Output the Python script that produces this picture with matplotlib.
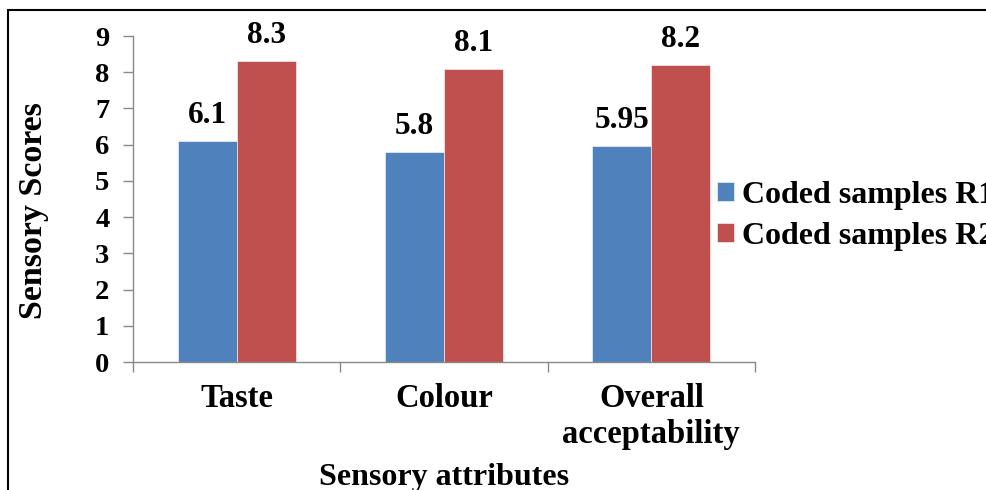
import matplotlib
matplotlib.use("Agg")
import matplotlib.pyplot as plt
import numpy as np
from matplotlib.patches import Rectangle

categories = ["Taste", "Colour", "Overall\nacceptability"]
series_names = ["Coded samples R1", "Coded samples R2"]
r1_scores = [6.1, 5.8, 5.95]
r2_scores = [8.3, 8.1, 8.2]
r1_labels = ["6.1", "5.8", "5.95"]
r2_labels = ["8.3", "8.1", "8.2"]
y_ticks = list(range(0, 10))

plt.rcParams["font.family"] = ["Liberation Serif", "DejaVu Serif"]
plt.rcParams["font.weight"] = "bold"

W, H = 987, 490
fig = plt.figure(figsize=(W / 100, H / 100), dpi=100)
ax = fig.add_axes([133 / W, (H - 362) / H, (755 - 133) / W, (362 - 36) / H])

blue = "#4F81BD"
red = "#C0504D"
grey = "#898989"

x = np.arange(len(categories))
bw = 0.285
b1 = ax.bar(x - bw / 2, r1_scores, bw, color=blue, edgecolor="white", linewidth=0.4,
            label=series_names[0])
b2 = ax.bar(x + bw / 2, r2_scores, bw, color=red, edgecolor="white", linewidth=0.4,
            label=series_names[1])

for bars, labels in ((b1, r1_labels), (b2, r2_labels)):
    for rect, lab in zip(bars, labels):
        ax.annotate(lab, (rect.get_x() + rect.get_width() / 2, rect.get_height()),
                    xytext=(0, 13), textcoords="offset points",
                    ha="center", va="baseline", fontsize=22.5, fontweight="bold")

ax.set_xlim(-0.5, len(categories) - 0.5)
ax.set_ylim(0, 9)
ax.set_yticks(y_ticks)
ax.set_yticklabels([str(t) for t in y_ticks], fontsize=20.5, fontweight="bold")

# category labels centred under each group, tick marks on the group boundaries
ax.set_xticks(np.arange(-0.5, len(categories), 1.0))
ax.set_xticklabels([])
ax.set_xticks(x, minor=True)
ax.set_xticklabels(categories, minor=True, fontsize=23.5, fontweight="bold")
ax.tick_params(axis="x", which="minor", length=0, pad=15)
ax.tick_params(axis="x", which="major", length=7, width=1.0, color=grey, direction="out")
ax.tick_params(axis="y", length=7, width=1.0, color=grey, direction="out", pad=10)

for side in ("top", "right"):
    ax.spines[side].set_visible(False)
for side in ("left", "bottom"):
    ax.spines[side].set_color(grey)
    ax.spines[side].set_linewidth(1.0)

fig.text(444 / W, (H - 485) / H, "Sensory attributes", ha="center", va="baseline",
         fontsize=23, fontweight="bold")
fig.text(34 / W, (H - 211) / H, "Sensory Scores", ha="center", va="center",
         rotation=90, fontsize=24.5, fontweight="bold")

ax.legend(handles=[b1, b2], loc="center left", bbox_to_anchor=(717 / W, (H - 216) / H),
          bbox_transform=fig.transFigure, frameon=False, fontsize=23,
          handlelength=0.52, handleheight=0.52, handletextpad=0.27,
          labelspacing=0.38, borderpad=0, borderaxespad=0)

# outer frame around the chart area
fig.add_artist(Rectangle((8 / W, -0.5), 2.0, (H - 10) / H + 0.5, transform=fig.transFigure,
                         fill=False, edgecolor="black", linewidth=1.5, clip_on=False))

fig.savefig("out.png", dpi=100)
